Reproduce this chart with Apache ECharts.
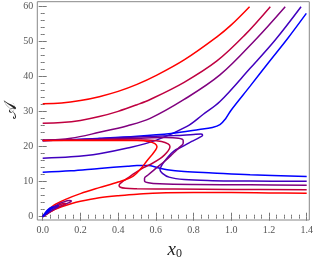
<!DOCTYPE html>
<html><head><meta charset="utf-8">
<script src="https://cdn.jsdelivr.net/npm/echarts@6/dist/echarts.min.js"></script>
<style>html,body{margin:0;padding:0;background:#fff}#c{width:313px;height:263px}</style>
</head><body><div id="c"></div>
<script>
// tick values
const xTicks = [0, 0.2, 0.4, 0.6, 0.8, 1.0, 1.2, 1.4];
const yTicks = [0, 10, 20, 30, 40, 50, 60];
// colours of the five families (red -> blue)
const colors = ['#ff0000', '#bf0040', '#80007f', '#4000bf', '#0000ff'];

// upper branches [x0, A]
const redUpper = [[0,32.3],[0.1,32.5],[0.2,33.2],[0.3,34.3],[0.4,35.8],[0.5,37.8],[0.6,40.3],[0.75,44.8],[0.924,51.4],[1.0,54.8],[1.097,60]];
const crimsonUpper = [[0,26.7],[0.1,26.9],[0.2,27.5],[0.3,28.6],[0.4,30.1],[0.5,32.0],[0.57,33.5],[0.75,38.4],[0.924,44.5],[1.07,51.8],[1.207,60]];
const purpleUpper = [[0,21.8],[0.15,22.4],[0.3,24.1],[0.45,26.0],[0.57,28.1],[0.75,33.5],[0.94,40.5],[1.127,50.5],[1.286,60]];
const violetUpper = [[0,16.7],[0.15,17.1],[0.3,18.0],[0.45,19.6],[0.6,21.8],[0.765,25.8],[0.85,29.2],[0.94,32.9],[1.1,42.4],[1.233,50.5],[1.37,60]];
const blueKnee = [[0,21.8],[0.1,21.9],[0.3,22.4],[0.5,23.0],[0.68,23.8],[0.83,24.9],[0.9,25.5],[0.94,26.3],[0.97,28.0],[1.0,30.5],[1.1,37.3],[1.2,44.2],[1.3,51.0],[1.398,58.1]];

// folded branches
const redFold = [[0,21.8],[0.2,21.8],[0.4,21.8],[0.5,21.75],[0.56,21.5],[0.595,20.9],[0.606,20.0],[0.598,19.0],[0.578,17.6],[0.553,16.0],[0.525,14.0],[0.48,11.6],[0.4,9.9],[0.3,8.3],[0.2,6.6],[0.128,5.1],[0.06,3.3],[0.02,1.4],[0,0]];
const redLower = [[0,0],[0.02,0.8],[0.05,1.7],[0.1,2.8],[0.15,3.7],[0.2,4.4],[0.3,5.4],[0.4,6.0],[0.5,6.4],[0.62,6.8],[0.8,6.9],[1.0,6.9],[1.2,6.8],[1.4,6.7]];
const crimsonFold = [[0,21.8],[0.2,21.9],[0.4,22.0],[0.55,21.9],[0.63,21.5],[0.665,20.8],[0.675,20.0],[0.665,18.8],[0.645,17.6],[0.62,16.5],[0.58,15.2],[0.535,14.0],[0.49,12.5],[0.45,11.0],[0.42,9.9],[0.405,9.0],[0.412,8.4],[0.44,8.1],[0.5,8.0],[0.7,7.9],[1.0,7.8],[1.4,7.7]];
const purpleFold = [[0,21.8],[0.3,22.1],[0.5,22.4],[0.65,22.6],[0.72,22.4],[0.745,21.8],[0.745,21.0],[0.725,19.8],[0.69,18.0],[0.65,16.0],[0.6,13.8],[0.56,12.0],[0.54,11.0],[0.54,10.2],[0.56,9.7],[0.62,9.4],[0.8,9.2],[1.1,9.1],[1.4,9.0]];
const violetFold = [[0,21.8],[0.1,21.9],[0.3,22.3],[0.5,22.8],[0.7,23.2],[0.8,23.5],[0.84,23.6],[0.848,23.3],[0.83,22.6],[0.79,21.5],[0.74,20.0],[0.694,18.7],[0.66,16.8],[0.635,15.0],[0.622,13.4],[0.635,12.4],[0.67,11.3],[0.75,10.6],[0.9,10.3],[1.1,10.2],[1.4,10.1]];
const blueHump = [[0,12.7],[0.15,13.1],[0.3,13.8],[0.45,14.4],[0.5,14.6],[0.56,14.6],[0.61,14.0],[0.66,13.4],[0.75,12.9],[0.9,12.5],[1.1,12.0],[1.4,11.5]];

// small loops near the origin
const purpleLoop = [[0,0],[0.02,1.2],[0.05,2.5],[0.08,3.5],[0.11,4.2],[0.14,4.6],[0.152,4.5],[0.14,4.0],[0.11,3.4],[0.08,2.7],[0.05,1.8],[0.02,0.7],[0,0]];
const crimsonLoop = [[0,0],[0.02,1.2],[0.05,2.4],[0.08,3.2],[0.105,3.7],[0.122,3.8],[0.115,3.4],[0.09,2.8],[0.06,2.0],[0.03,1.0],[0,0]];
const violetLoop = [[0,0],[0.02,1.3],[0.04,2.3],[0.065,3.0],[0.085,3.3],[0.08,2.9],[0.06,2.3],[0.035,1.4],[0.015,0.6],[0,0]];
const blueLoop = [[0,0],[0.015,1.2],[0.03,2.1],[0.048,2.7],[0.056,2.8],[0.048,2.4],[0.03,1.6],[0.012,0.7],[0,0]];

const curves = [
  [redUpper,0],[crimsonUpper,1],[purpleUpper,2],[violetUpper,3],[blueKnee,4],
  [blueHump,4],[violetFold,3],[purpleFold,2],[crimsonFold,1],
  [redLower,0],[redFold,0],
  [purpleLoop,2],[crimsonLoop,1],[violetLoop,3],[blueLoop,4]
];

const chart = echarts.init(document.getElementById('c'), null, {renderer:'canvas'});
const labelFont = {fontFamily:'Liberation Serif', fontSize:10, color:'#555'};
function xAxisDef(pos, off, show) {
  return {type:'value', position:pos, min:0, max:1.4, interval:0.2, offset:off,
    axisLine:{show:false}, splitLine:{show:false},
    axisTick:{show:true, inside:true, length:4, lineStyle:{color:'#777', width:1}},
    minorTick:{show:true, splitNumber:5, length:2, lineStyle:{color:'#777', width:1}},
    axisLabel:Object.assign({show:show, margin:5, formatter:v=>v.toFixed(1)}, labelFont)};
}
function yAxisDef(pos, off, show) {
  return {type:'value', position:pos, min:0, max:60, interval:10, offset:off,
    axisLine:{show:false}, splitLine:{show:false},
    axisTick:{show:true, inside:true, length:4, lineStyle:{color:'#777', width:1}},
    minorTick:{show:true, splitNumber:5, length:2, lineStyle:{color:'#777', width:1}},
    axisLabel:Object.assign({show:show, margin:4}, labelFont)};
}
const xb = xAxisDef('bottom', 3.3, true);
xb.name = '{x|x}{s|0}';
xb.nameLocation = 'middle';
xb.nameGap = 19;
xb.nameTextStyle = {rich:{x:{fontFamily:'Liberation Serif', fontStyle:'italic', fontSize:19, color:'#222'}, s:{fontFamily:'Liberation Serif', fontSize:12, color:'#222', verticalAlign:'bottom', padding:[9,0,0,0]}}};
const xt = xAxisDef('top', 5, false);
const yl = yAxisDef('left', 5.4, true);
const yr = yAxisDef('right', 2.8, false);

chart.setOption({
  animation:false,
  grid:{left:42.7, top:6.7, right:6.3, bottom:46.3, containLabel:false, outerBoundsMode:'none'},
  xAxis:[xb, xt],
  yAxis:[yl, yr],
  graphic:[
    {type:'rect', shape:{x:37.3, y:1.7, width:272, height:218.3}, style:{fill:'none', stroke:'#888', lineWidth:1}, silent:true, z:100},
    {type:'text', x:11, y:110, rotation:Math.PI/2, style:{text:'𝒜', fontFamily:'DejaVu Serif', fontSize:18, fill:'#222', align:'center', verticalAlign:'middle'}, silent:true, z:100}
  ],
  series: curves.map(([d, ci]) => ({
    type:'line', xAxisIndex:0, yAxisIndex:0, data:d, showSymbol:false, smooth:0.35, clip:false,
    lineStyle:{color:colors[ci], width:1.5}, itemStyle:{color:colors[ci]}
  }))
});
</script></body></html>
